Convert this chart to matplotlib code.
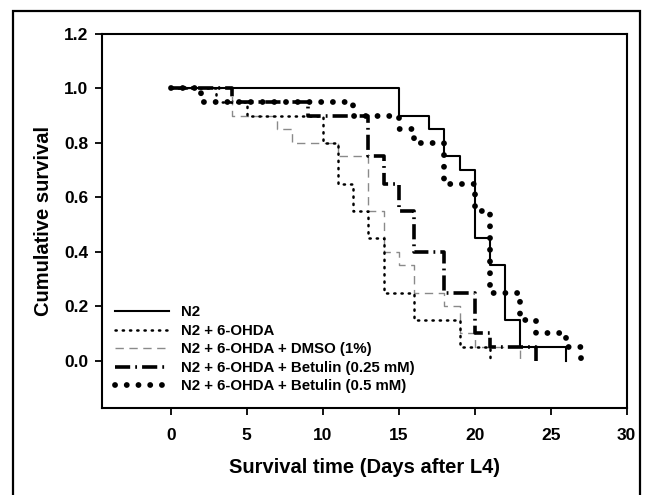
import matplotlib
matplotlib.use('Agg')
import matplotlib.pyplot as plt
from matplotlib.patches import Rectangle

plt.rcParams['font.family'] = ['Liberation Sans', 'DejaVu Sans']
plt.rcParams['font.weight'] = 'bold'

# event times (days after L4) and survival after each event
n2_t = [0, 15, 17, 18, 19, 20, 21, 22, 23, 26]
n2_s = [1.0, 0.90, 0.85, 0.75, 0.70, 0.45, 0.35, 0.15, 0.05, 0.0]

ohda_t = [0, 3, 5, 10, 11, 12, 13, 14, 16, 19, 21]
ohda_s = [1.0, 0.95, 0.90, 0.80, 0.65, 0.55, 0.45, 0.25, 0.15, 0.05, 0.0]

dmso_t = [0, 4, 7, 8, 11, 13, 14, 15, 16, 18, 19, 20, 23]
dmso_s = [1.0, 0.90, 0.85, 0.80, 0.75, 0.55, 0.40, 0.35, 0.25, 0.20, 0.10, 0.05, 0.0]

bet25_t = [0, 4, 9, 13, 14, 15, 16, 18, 20, 21, 24]
bet25_s = [1.0, 0.95, 0.90, 0.75, 0.65, 0.55, 0.40, 0.25, 0.10, 0.05, 0.0]

bet5_t = [0, 2, 12, 15, 16, 18, 20, 21, 23, 24, 26, 27]
bet5_s = [1.0, 0.95, 0.90, 0.85, 0.80, 0.65, 0.55, 0.25, 0.15, 0.10, 0.05, 0.0]

labels = ['N2', 'N2 + 6-OHDA', 'N2 + 6-OHDA + DMSO (1%)',
          'N2 + 6-OHDA + Betulin (0.25 mM)', 'N2 + 6-OHDA + Betulin (0.5 mM)']

fig = plt.figure(figsize=(6.52, 4.95), dpi=100)
ax = fig.add_axes([102.3/652, 1-408.3/495, (626.7-102.3)/652, (408.3-34)/495])

h_dmso, = ax.step(dmso_t, dmso_s, where='post', color='#8a8a8a', lw=1.0,
                  linestyle=(0, (6, 4)))
h_n2, = ax.step(n2_t, n2_s, where='post', color='black', lw=1.5)
h_ohda, = ax.step(ohda_t, ohda_s, where='post', color='black', lw=1.8,
                  linestyle=(0, (0.5, 2.4)), dash_capstyle='round')
h_b25, = ax.step(bet25_t, bet25_s, where='post', color='black', lw=2.6,
                 linestyle=(0, (4.2, 1.4, 0.5, 1.4)))
h_b5, = ax.step(bet5_t, bet5_s, where='post', color='black', lw=4.2,
                linestyle=(0, (0.01, 2.0)), dash_capstyle='round')

ax.set_xlim(-4.5, 30)
ax.set_ylim(-0.175, 1.2)
ax.set_xticks([0, 5, 10, 15, 20, 25, 30])
ax.set_yticks([0.0, 0.2, 0.4, 0.6, 0.8, 1.0, 1.2])
ax.set_yticklabels(['%.1f' % v for v in [0.0, 0.2, 0.4, 0.6, 0.8, 1.0, 1.2]])
ax.tick_params(axis='x', direction='out', length=5, width=1.3, pad=9, labelsize=12.5)
ax.tick_params(axis='y', direction='out', length=5, width=1.3, pad=5, labelsize=12.5)
for sp in ax.spines.values():
    sp.set_linewidth(1.5)

ax.set_xlabel('Survival time (Days after L4)', fontsize=14.5, fontweight='bold', labelpad=11)
ax.set_ylabel('Cumulative survival', fontsize=14.5, fontweight='bold', labelpad=8)

ax.legend([h_n2, h_ohda, h_dmso, h_b25, h_b5], labels, loc='upper left',
          bbox_to_anchor=(0.025, 0.275), frameon=False,
          handlelength=3.6, handletextpad=0.75, labelspacing=0.3,
          borderpad=0, borderaxespad=0, prop={'weight': 'bold', 'size': 10.8})

# outer frame of the figure
fig.patches.append(Rectangle((12.5/652, -0.02), (640-12.5)/652, 1.02-11/495,
                             transform=fig.transFigure, fill=False,
                             edgecolor='black', lw=1.6))

fig.savefig('out.png', dpi=100)
